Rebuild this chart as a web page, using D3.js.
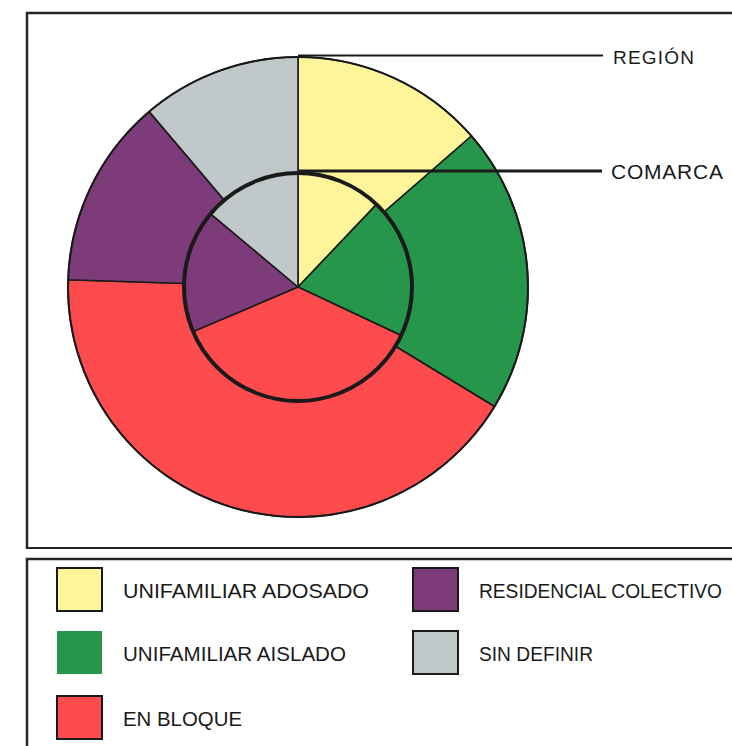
<!DOCTYPE html>
<html>
<head>
<meta charset="utf-8">
<script src="https://cdn.jsdelivr.net/npm/d3@7"></script>
<style>
html,body{margin:0;padding:0;background:#fff;}
svg{display:block;}
text{font-family:"Liberation Sans",Arial,sans-serif;fill:#1a1a1a;}
</style>
</head>
<body>
<svg id="chart" width="732" height="746"></svg>
<script>
// ---- data ----
const categories = ["UNIFAMILIAR ADOSADO","UNIFAMILIAR AISLADO","EN BLOQUE","RESIDENCIAL COLECTIVO","SIN DEFINIR"];
const regionValues  = [13.6, 20.1, 41.8, 13.3, 11.2];
const comarcaValues = [12.1, 19.9, 36.6, 17.5, 13.9];
const colors = ["#fef59b","#26964a","#fe4b4e","#7d3b7a","#c0c8ca"];
const ringLabels = ["REGIÓN","COMARCA"];
const legendOrder = [0,1,2,3,4];

const svg = d3.select("#chart");

// frames
svg.append("path")
  .attr("d","M27,549 L27,13 L740,13")
  .attr("fill","none").attr("stroke","#262626").attr("stroke-width",2.5);
svg.append("line").attr("x1",27).attr("x2",740).attr("y1",548).attr("y2",548)
  .attr("stroke","#262626").attr("stroke-width",2);
svg.append("path")
  .attr("d","M27,750 L27,559 L740,559")
  .attr("fill","none").attr("stroke","#262626").attr("stroke-width",2.5);

const cx = 298, cy = 287;
const rOuter = 230, rInner = 114;
const g = svg.append("g").attr("transform",`translate(${cx},${cy})`);

const pie = d3.pie().sort(null).value(d => d);
const arcOuter = d3.arc().innerRadius(0).outerRadius(rOuter);
const arcInner = d3.arc().innerRadius(0).outerRadius(rInner);

g.selectAll("path.outer").data(pie(regionValues)).join("path")
  .attr("class","outer")
  .attr("d",arcOuter)
  .attr("fill",(d,i)=>colors[i])
  .attr("stroke","#1a1a1a").attr("stroke-width",1.6).attr("stroke-linejoin","round");

g.append("circle").attr("r",rOuter).attr("fill","none")
  .attr("stroke","#1a1a1a").attr("stroke-width",2);

g.selectAll("path.inner").data(pie(comarcaValues)).join("path")
  .attr("class","inner")
  .attr("d",arcInner)
  .attr("fill",(d,i)=>colors[i])
  .attr("stroke","#1a1a1a").attr("stroke-width",1.6).attr("stroke-linejoin","round");

g.append("circle").attr("r",rInner).attr("fill","none")
  .attr("stroke","#1a1a1a").attr("stroke-width",4);

// leader lines & labels
svg.append("line").attr("x1",cx).attr("x2",603).attr("y1",cy-rOuter-1.5).attr("y2",cy-rOuter-1.5)
  .attr("stroke","#1a1a1a").attr("stroke-width",2);
svg.append("line").attr("x1",cx).attr("x2",602).attr("y1",cy-rInner-2).attr("y2",cy-rInner-2)
  .attr("stroke","#1a1a1a").attr("stroke-width",3);
svg.append("text").attr("x",613).attr("y",64).attr("font-size",19)
  .attr("textLength",81).text(ringLabels[0]);
svg.append("text").attr("x",611).attr("y",179).attr("font-size",21)
  .attr("textLength",112).text(ringLabels[1]);

// legend
const legX = [57, 413], legTextX = [123, 479];
const legY = [568, 631, 696];
const legWidths = [246, 223, 119, 243, 114];
legendOrder.forEach((ci, k) => {
  const col = k < 3 ? 0 : 1;
  const row = k < 3 ? k : k - 3;
  svg.append("rect")
    .attr("x",legX[col]).attr("y",legY[row]).attr("width",45).attr("height",43)
    .attr("fill",colors[ci])
    .attr("stroke", ci === 1 ? "none" : "#1a1a1a").attr("stroke-width",2);
  svg.append("text")
    .attr("x",legTextX[col]).attr("y",legY[row]+30)
    .attr("font-size", ci === 3 ? 20 : 21)
    .attr("textLength",legWidths[ci])
    .attr("lengthAdjust","spacingAndGlyphs")
    .text(categories[ci]);
});
</script>
</body>
</html>
